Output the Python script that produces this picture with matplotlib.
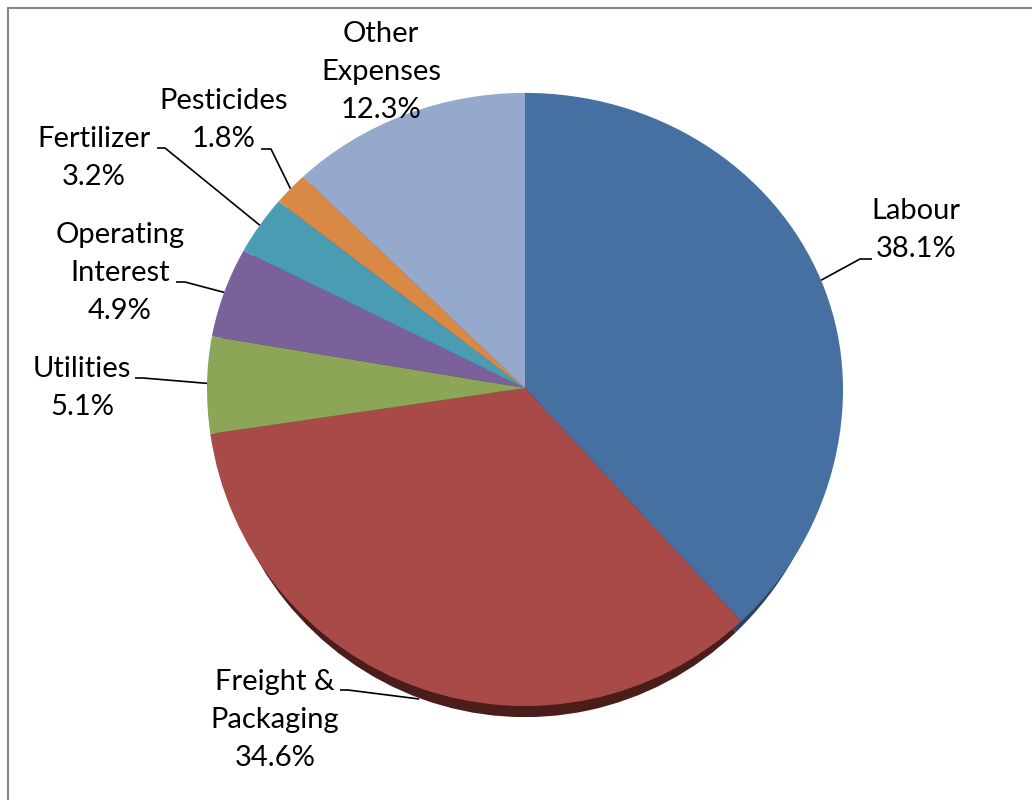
import numpy as np
import matplotlib
matplotlib.use("Agg")
import matplotlib.pyplot as plt
from matplotlib.transforms import Transform
from matplotlib.patches import Rectangle

# ---- data -------------------------------------------------------------
categories = ["Labour", "Freight &\nPackaging", "Utilities", "Operating\nInterest",
              "Fertilizer", "Pesticides", "Other\nExpenses"]
shares = [38.1, 34.6, 5.1, 4.9, 3.2, 1.8, 12.3]

top_colors = ["#4570A1", "#A84A48", "#8BA656", "#7A6199", "#4A9CB2", "#DA8944", "#95A9CD"]
side_colors = ["#2A4468", "#4A1C1A", "#55682F", "#4A3A60", "#2B6070", "#8A5428", "#5E6E8A"]

# ---- layout (pixel geometry of the canvas) ----------------------------
W, H = 1032, 800
CX, CY, R = 525, 388, 318            # pie centre and radius in pixels
TOP_SCALE, BOTTOM_SCALE = 0.928, 1.0  # slight perspective tilt of the disc
DEPTH = 0.035                        # thickness of the 3-D rim (radius units)
RIM_XSCALE = 0.975                   # rim narrows towards the sides


def px(x, y):
    """pixel position -> data coordinates (radius units, centred on the pie)"""
    return (x - CX) / R, (CY - y) / R


class Tilt(Transform):
    """Squash the upper half of the disc a little more than the lower half."""
    input_dims = output_dims = 2
    has_inverse = False

    def __init__(self, top, bottom, xscale=1.0):
        super().__init__()
        self.top, self.bottom, self.xscale = top, bottom, xscale

    def transform_non_affine(self, values):
        v = np.array(values, dtype=float, copy=True)
        y = v[:, 1]
        v[:, 0] = v[:, 0] * self.xscale
        v[:, 1] = np.where(y > 0, y * self.top, y * self.bottom)
        return v


plt.rcParams["font.family"] = ["Lato", "DejaVu Sans"]

fig = plt.figure(figsize=(W / 100, H / 100), dpi=100)
ax = fig.add_axes([0, 0, 1, 1])
tilt = Tilt(TOP_SCALE, BOTTOM_SCALE)
rim_tilt = Tilt(TOP_SCALE, BOTTOM_SCALE, RIM_XSCALE)

# rim of the 3-D pie (drawn first, shifted down)
side, _ = ax.pie(shares, colors=side_colors, startangle=90, counterclock=False,
                 radius=1.0, center=(0, -DEPTH), wedgeprops=dict(linewidth=0))
for w in side:
    w.set_transform(rim_tilt + ax.transData)
    w.set_zorder(1)

# top face
wedges, _ = ax.pie(shares, colors=top_colors, startangle=90, counterclock=False,
                   radius=1.0, center=(0, 0), wedgeprops=dict(linewidth=0))
for w in wedges:
    w.set_transform(tilt + ax.transData)
    w.set_zorder(2)

ax.set_xlim(-CX / R, (W - CX) / R)
ax.set_ylim(-(H - CY) / R, CY / R)
ax.set_aspect("equal")
ax.axis("off")

# ---- labels with leader lines -----------------------------------------
# text centre, end and elbow of the leader (pixels); None = no leader line
label_layout = [
    ((916, 230), (872, 259), (860, 259)),   # Labour
    ((275, 720), (340, 690), (348, 690)),   # Freight & Packaging
    ((82, 388), (135, 378), (143, 378)),    # Utilities
    ((120, 273), (176, 282), (185, 282)),   # Operating Interest
    ((94, 158), (157, 148), (165, 148)),    # Fertilizer
    ((224, 120), (261, 149), (271, 149)),   # Pesticides
    ((381, 72), None, None),                # Other Expenses
]

total = sum(shares)
cum = np.cumsum(shares)
for i, (name, val) in enumerate(zip(categories, shares)):
    mid = np.deg2rad(90 - 360 * (cum[i] - val / 2) / total)
    ax_pt = np.array([[np.cos(mid), np.sin(mid)]])
    if np.sin(mid) < -0.5:   # lower half: leader meets the rim
        ax_pt[0, 1] -= DEPTH
    anchor = tilt.transform(ax_pt)[0]

    (tx, ty), p_end, p_elbow = label_layout[i]
    ax.text(*px(tx, ty), f"{name}\n{val:.1f}%", ha="center", va="center",
            fontsize=21, color="black", linespacing=1.55, zorder=5)
    if p_end is not None:
        xs = [px(*p_end)[0], px(*p_elbow)[0], anchor[0]]
        ys = [px(*p_end)[1], px(*p_elbow)[1], anchor[1]]
        ax.plot(xs, ys, color="black", lw=1.2, zorder=4, solid_capstyle="butt")

# outer chart border
fig.patches.append(Rectangle((7.5 / W, -0.1), 1.2, 1 - 7.5 / H + 0.1,
                             transform=fig.transFigure, fill=False,
                             edgecolor="#878787", lw=1.5))

fig.savefig("out.png", dpi=100)
